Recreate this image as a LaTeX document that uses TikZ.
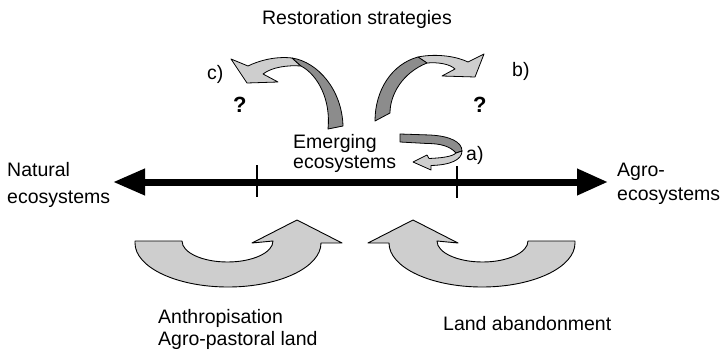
\documentclass[tikz,border=0pt]{standalone}
\usepackage{fontspec}
\setmainfont{Liberation Sans}
\usetikzlibrary{arrows.meta}
\definecolor{lightg}{RGB}{206,206,206}
\definecolor{darkg}{RGB}{140,140,140}
\begin{document}
\begin{tikzpicture}[x=1pt,y=-1pt,
  txt/.style={font=\fontsize{19.5}{22}\selectfont, inner sep=0pt, anchor=base west},
  qmark/.style={font=\fontsize{22}{24}\selectfont\bfseries, inner sep=0pt, anchor=base west},
  bigarrow/.style={fill=lightg, draw=black, line width=0.9pt, line join=round},
  lightrib/.style={fill=lightg, draw=black, line width=0.8pt, line join=round},
  darkrib/.style={fill=darkg, draw=black, line width=0.8pt, line join=round},
  axis/.style={line width=7pt, {Triangle[length=32pt,width=25pt]}-{Triangle[length=31pt,width=25pt]}},
  tick/.style={line width=2.8pt}]
\useasboundingbox (0,0) rectangle (720,353);

% main axis
\coordinate (L) at (113,182);
\coordinate (R) at (608,182);
\draw[axis] (L) -- (R);
\coordinate (t1a) at (257,165); \coordinate (t1b) at (257,197);
\coordinate (t2a) at (457,166); \coordinate (t2b) at (457,198);
\draw[tick] (t1a) -- (t1b);
\draw[tick] (t2a) -- (t2b);

% bottom arrows
\path[bigarrow] (135,241) -- (182,241) arc[start angle=180,end angle=0,x radius=45.5,y radius=21]
  -- (252,243) -- (297,220) -- (342,243) -- (321,243)
  arc[start angle=0,end angle=180,x radius=93,y radius=44] -- cycle;
\path[bigarrow] (575,241) -- (528,241) arc[start angle=0,end angle=180,x radius=45.5,y radius=21]
  -- (458,243) -- (413,220) -- (368,243) -- (389,243)
  arc[start angle=180,end angle=0,x radius=93,y radius=44] -- cycle;

% arrow c)
\path[lightrib] (231,59) -- (248,66) .. controls (258,61) and (275,56) .. (292,58)
  -- (301,66) .. controls (288,65) and (272,67) .. (263,74) -- (278,82) -- (247,83) -- cycle;
\path[darkrib] (292,58) .. controls (318,62) and (342,90) .. (343,126) -- (328,129)
  .. controls (331,100) and (318,75) .. (301,66) -- cycle;

% arrow b)
\path[lightrib] (484,54) -- (468,62) .. controls (458,57) and (438,53) .. (418,57)
  -- (427,63) .. controls (438,62) and (450,64) .. (455,69) -- (442,76) -- (475,77) -- cycle;
\path[darkrib] (418,57) .. controls (392,64) and (375,90) .. (375,121) -- (390,113)
  .. controls (390,95) and (402,73) .. (427,63) -- cycle;

% arrow a)
\path[darkrib] (400,134) -- (430,135) .. controls (450,136) and (462,142) .. (462,151)
  -- (456,153) .. controls (450,146) and (440,143.5) .. (427,143.5) -- (400,142) -- cycle;
\path[lightrib] (413,162) -- (427,155) -- (429,158.5) .. controls (440,158) and (452,157) .. (456,153)
  -- (462,151) .. controls (462,160) and (450,165) .. (431,165.5) -- (431,170) -- cycle;

% texts
\node[txt, anchor=base] (rs) at (357,25) {Restoration strategies};
\node[txt] (c) at (207,80) {c)};
\node[txt] (b) at (512,77) {b)};
\node[txt] (a) at (466,160) {a)};
\node[qmark] (q1) at (233,112) {?};
\node[qmark] (q2) at (473,112) {?};
\node[txt] (em1) at (293,148) {Emerging};
\node[txt] (em2) at (293,168) {ecosystems};
\node[txt] (n1) at (7,176) {Natural};
\node[txt] (n2) at (7,203) {ecosystems};
\node[txt] (ag1) at (617,176) {Agro-};
\node[txt] (ag2) at (617,200) {ecosystems};
\node[txt] (an1) at (158,323) {Anthropisation};
\node[txt] (an2) at (158,345) {Agro-pastoral land};
\node[txt] (la) at (443,330) {Land abandonment};
\end{tikzpicture}
\end{document}
